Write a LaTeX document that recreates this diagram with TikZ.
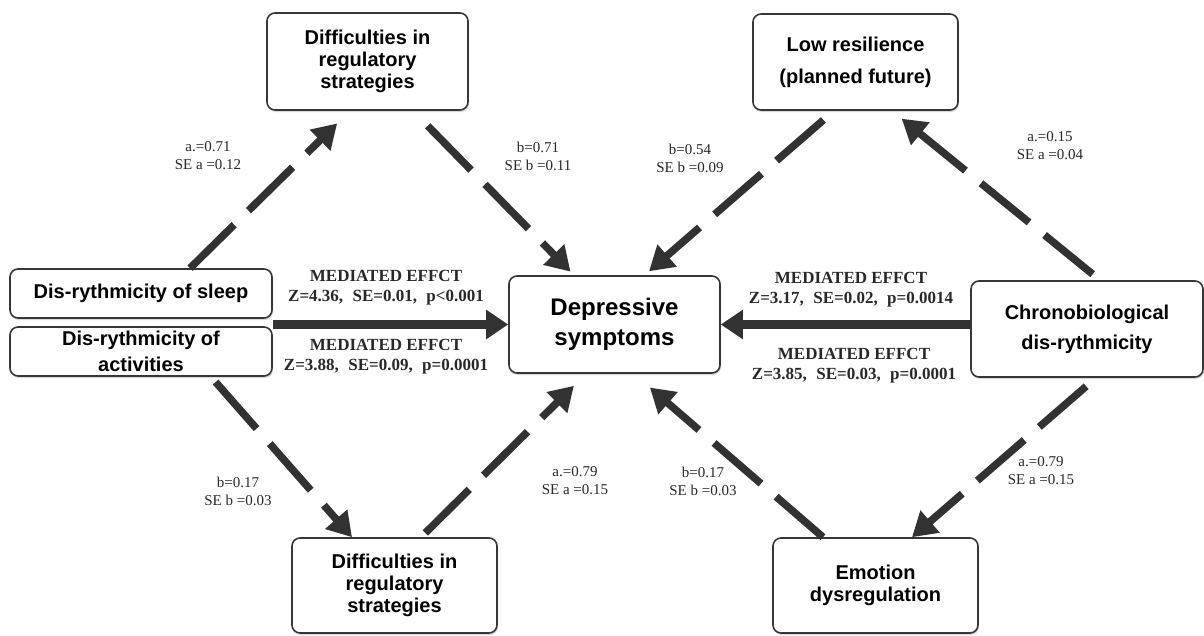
\documentclass[tikz,border=0pt]{standalone}
\usepackage{fontspec}
\setmainfont{Liberation Serif}
\newfontfamily\boxfont{Liberation Sans}
\usetikzlibrary{arrows.meta,calc,shadows}
\definecolor{linegray}{RGB}{50,50,50}
\definecolor{boxgray}{RGB}{55,55,55}
\definecolor{labgray}{RGB}{40,40,40}
\newcommand{\gapsep}{\hspace{0.55em}}
\tikzset{every picture/.style={line width=0.75pt}}
\tikzset{
  box/.style={draw=boxgray, line width=1.6pt, rounded corners=8pt, fill=white, inner sep=1pt, align=center,
    drop shadow={opacity=0.3, shadow xshift=1pt, shadow yshift=-2pt},
    font=\boxfont\bfseries\fontsize{20}{22}\selectfont},
  coef/.style={align=center, text=labgray, font=\fontsize{15}{18}\selectfont},
  medlab/.style={align=center, text=labgray, font=\bfseries\fontsize{17}{20}\selectfont},
  dasharrow/.style={draw=linegray, line width=7.5pt, dash pattern=on 62pt off 20pt, -{Triangle[length=24pt,width=28pt]}},
  solidarrow/.style={draw=linegray, line width=9pt, -{Triangle[length=22pt,width=28pt]}}
}

\begin{document}
\begin{tikzpicture}[x=1pt,y=1pt,yscale=-1]
	\useasboundingbox (0,0) rectangle (1204,635);

	% Text Node
	\node[box, minimum width=201pt, minimum height=97pt] (difftop) at (367.5,61.5) {Difficulties in\\regulatory\\strategies};
	% Text Node
	\node[box, minimum width=205pt, minimum height=96pt, font=\boxfont\bfseries\fontsize{20}{32}\selectfont] (lowres) at (855.5,62) {Low resilience\\(planned future)};
	% Text Node
	\node[box, minimum width=262pt, minimum height=49pt] (sleep) at (141,293.5) {Dis-rythmicity of sleep};
	% Text Node
	\node[box, minimum width=262pt, minimum height=49pt, font=\boxfont\bfseries\fontsize{20}{26}\selectfont] (act) at (141,351.5) {Dis-rythmicity of\\activities};
	% Text Node
	\node[box, minimum width=211pt, minimum height=97pt, font=\boxfont\bfseries\fontsize{24}{30}\selectfont] (dep) at (614.5,324.5) {Depressive\\symptoms};
	% Text Node
	\node[box, minimum width=232pt, minimum height=96pt, font=\boxfont\bfseries\fontsize{20}{30}\selectfont] (chrono) at (1087,329) {Chronobiological\\dis-rythmicity};
	% Text Node
	\node[box, minimum width=205pt, minimum height=95pt] (diffbot) at (394.5,585.5) {Difficulties in\\regulatory\\strategies};
	% Text Node
	\node[box, minimum width=205pt, minimum height=95pt] (emo) at (875.5,585.5) {Emotion\\dysregulation};

	%Dashed Lines
	\draw[dasharrow, shorten >=18pt] ($(sleep.north)+(49,0)$) -- ($(difftop.south)+(-17.5,0)$);
	\draw[dasharrow, shorten <=21pt, shorten >=5pt] ($(difftop.south)+(45.5,0)$) -- ($(dep.north)+(-40.5,0)$);
	\draw[dasharrow, shorten <=14pt, shorten >=6pt] ($(lowres.south)+(-21.5,0)$) -- ($(dep.north)+(30,0)$);
	\draw[dasharrow, shorten <=9.5pt, shorten >=12.5pt] ($(chrono.north)+(13,0)$) -- ($(lowres.south)+(36.5,0)$);
	\draw[dasharrow, shorten <=7pt] ($(act.south)+(70,0)$) -- ($(diffbot.north)+(-42.5,0)$);
	\draw[dasharrow, shorten <=6pt, shorten >=17pt] ($(diffbot.north)+(26.5,0)$) -- ($(dep.south)+(-28.5,0)$);
	\draw[dasharrow, shorten >=21pt] ($(emo.north)+(-52.5,0)$) -- ($(dep.south)+(19.5,0)$);
	\draw[dasharrow, shorten <=13pt] ($(chrono.south)+(9,0)$) -- ($(emo.north)+(36.5,0)$);
	%Straight Lines
	\draw[solidarrow] (sleep.south east |- dep.west) -- (dep.west);
	\draw[solidarrow] (chrono.west |- dep.east) -- (dep.east);

	% Text Node
	\node[coef] (a1) at (208,156) {a.=0.71\\SE a =0.12};
	\node[coef] (b1) at (538,156) {b=0.71\\SE b =0.11};
	\node[coef] (b2) at (690,158) {b=0.54\\SE b =0.09};
	\node[coef] (a2) at (1050,146) {a.=0.15\\SE a =0.04};
	\node[coef] (b3) at (238,491) {b=0.17\\SE b =0.03};
	\node[coef] (a3) at (575,481) {a.=0.79\\SE a =0.15};
	\node[coef] (b4) at (703,481) {b=0.17\\SE b =0.03};
	\node[coef] (a4) at (1041,471) {a.=0.79\\SE a =0.15};
	% Text Node
	\node[medlab] (m1) at (386,287.5) {MEDIATED EFFCT\\Z=4.36,\gapsep SE=0.01,\gapsep p<0.001};
	\node[medlab] (m2) at (386,357) {MEDIATED EFFCT\\Z=3.88,\gapsep SE=0.09,\gapsep p=0.0001};
	\node[medlab] (m3) at (851,290) {MEDIATED EFFCT\\Z=3.17,\gapsep SE=0.02,\gapsep p=0.0014};
	\node[medlab] (m4) at (854,366) {MEDIATED EFFCT\\Z=3.85,\gapsep SE=0.03,\gapsep p=0.0001};

\end{tikzpicture}
\end{document}
